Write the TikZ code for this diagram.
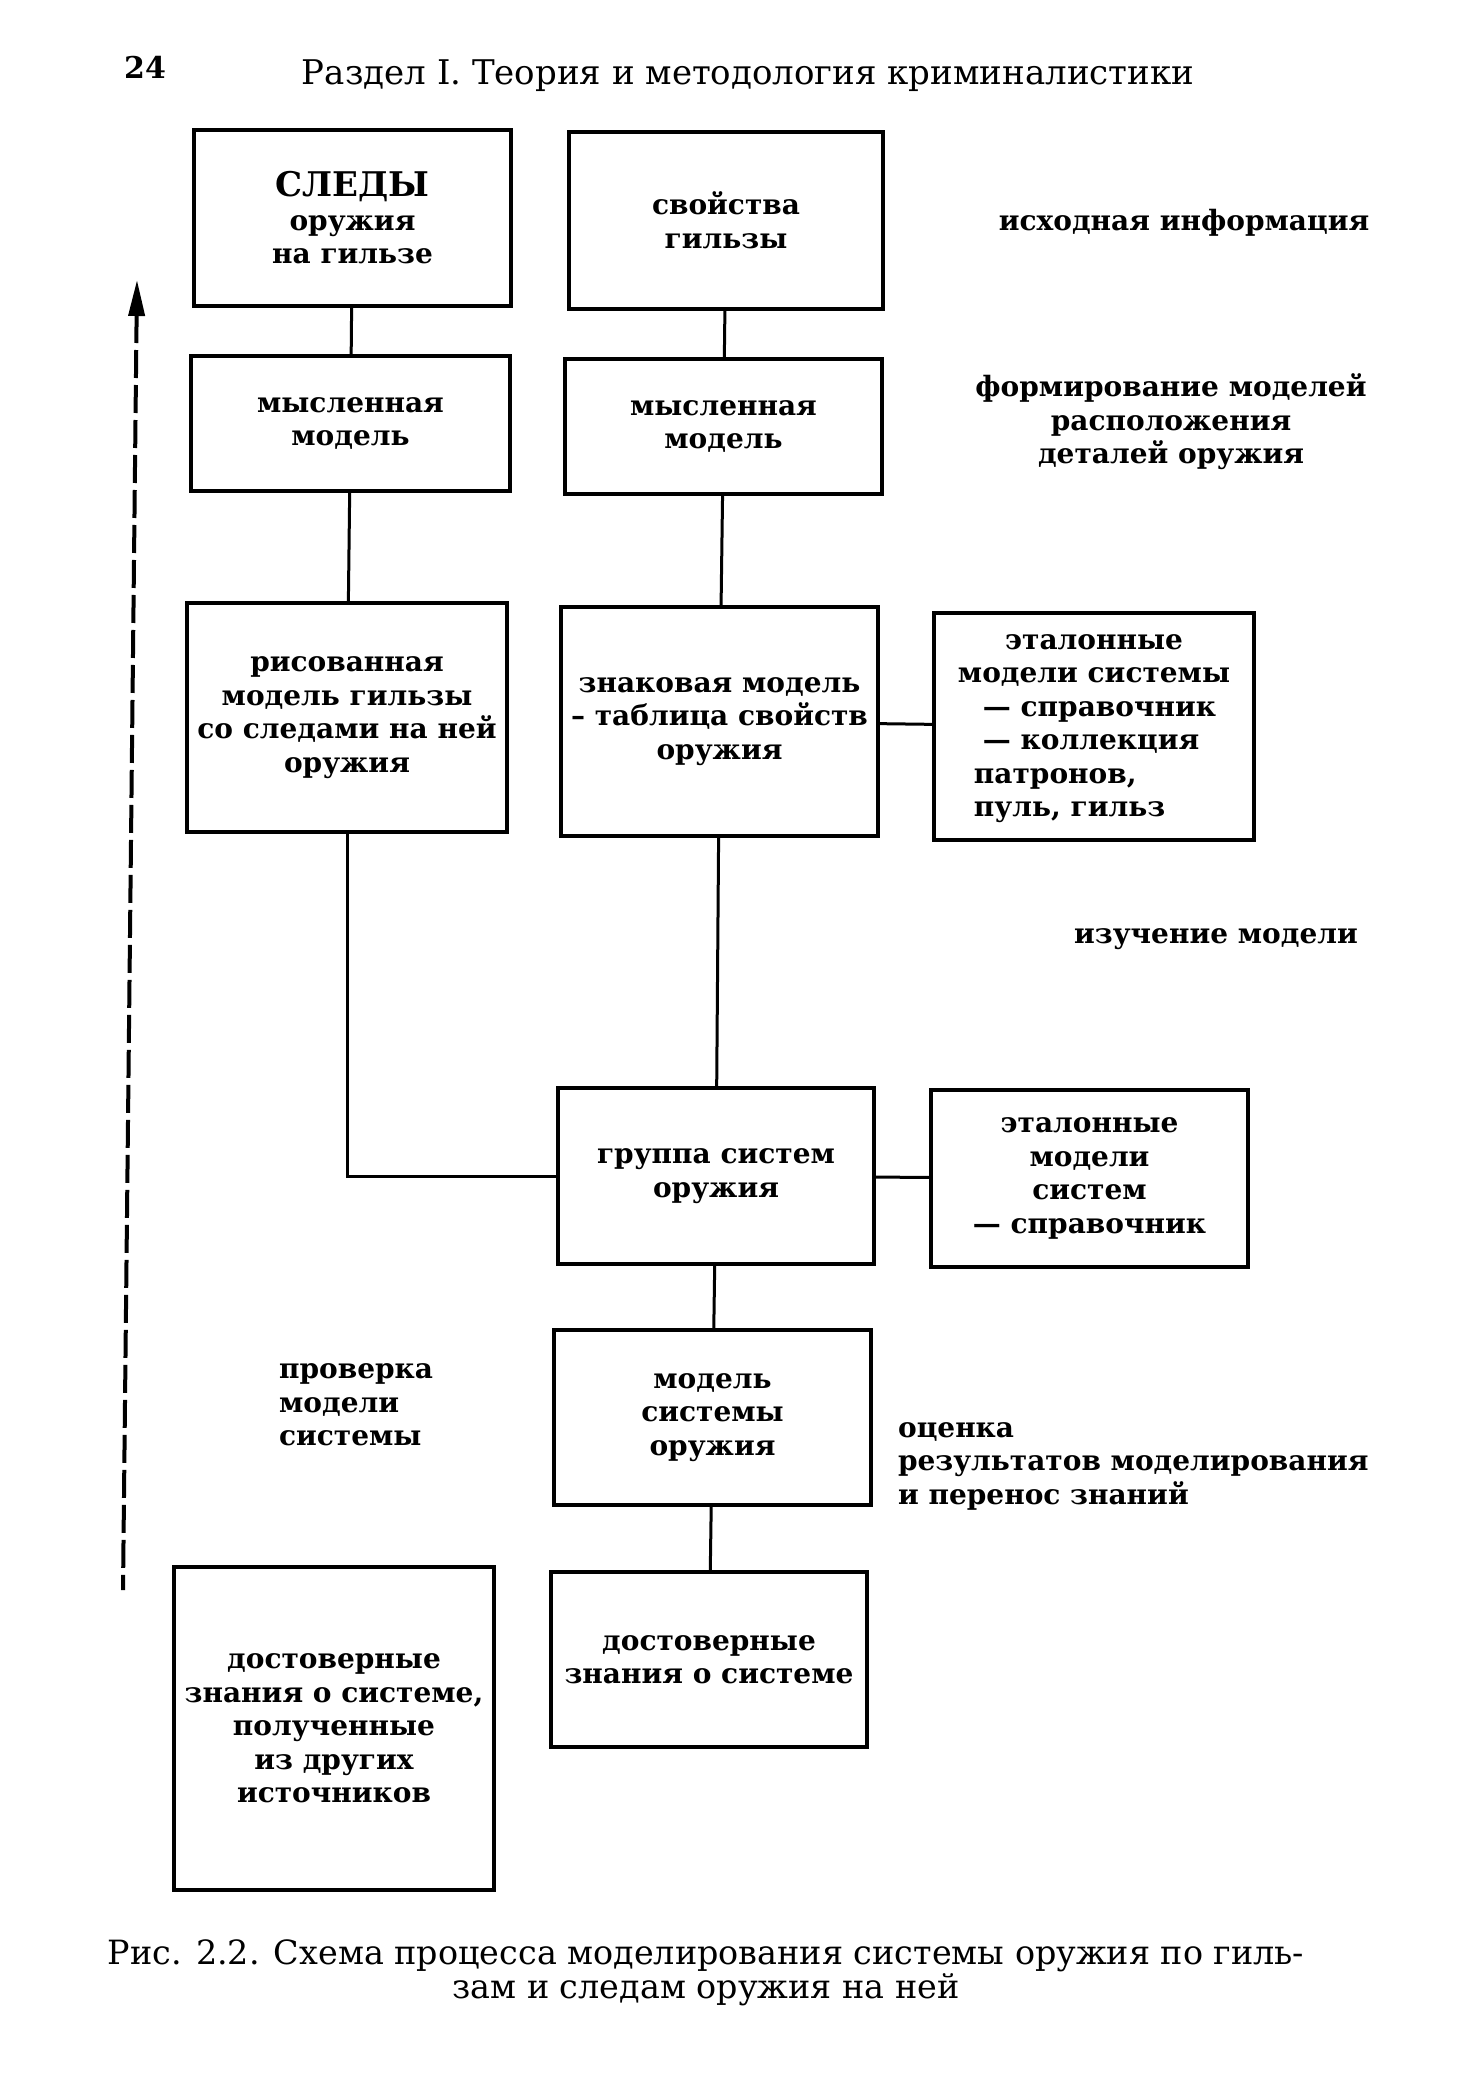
\documentclass[tikz,border=0pt]{standalone}
\usepackage{fontspec}
\setmainfont{DejaVu Serif}
\usepackage{tikz}
\newcommand*{\boxfont}{\fontsize{14pt}{16.75pt}\selectfont\bfseries}
\newcommand*{\capfont}{\fontsize{16.7pt}{17pt}\selectfont}
\newcommand*{\headfont}{\fontsize{17pt}{18pt}\selectfont}
\newcommand*{\cl}[1]{\multicolumn{1}{@{}c@{}}{#1}}
\usetikzlibrary{arrows.meta}
\tikzstyle{block} = [rectangle, line width=2pt, inner sep=2pt, align=center, font=\boxfont]
\tikzstyle{frame} = [draw, block]
\tikzstyle{note} = [align=center, font=\boxfont]
\tikzstyle{link} = [line width=1.5pt]
\tikzstyle{back} = [line width=2pt, dash pattern=on 14pt off 3.5pt, {Triangle[length=18pt, width=8pt]}-]

\begin{document}
\begin{tikzpicture}[x=0.5pt, y=-0.5pt]
    \useasboundingbox (0, 0) rectangle (1472, 2095);

    % Header.
    \node (page) [font=\fontsize{15pt}{17pt}\selectfont\bfseries] at (145, 67) {24};
    \node (head) [font=\headfont] at (748, 76) {Раздел I. Теория и методология криминалистики};

    % Blocks.
    \node (traces) [frame, minimum width=158.5pt, minimum height=88pt] at (352.5, 218)
        {{\fontsize{17pt}{17pt}\selectfont СЛЕДЫ}\\оружия\\на гильзе};
    \node (props) [frame, minimum width=157pt, minimum height=88.5pt] at (726, 220.5)
        {свойства\\гильзы};
    \node (mental 1) [frame, minimum width=159.5pt, minimum height=67.5pt] at (350.5, 423.5)
        {мысленная\\модель};
    \node (mental 2) [frame, minimum width=158.5pt, minimum height=67.5pt] at (723.5, 426.5)
        {мысленная\\модель};
    \node (drawn) [frame, minimum width=160pt, minimum height=114.5pt] at (347, 717.5)
        {рисованная\\модель гильзы\\со следами на ней\\оружия};
    \node (sign) [frame, minimum width=158.5pt, minimum height=114.5pt] at (719.5, 721.5)
        {знаковая модель\\– таблица свойств\\оружия};
    \node (ref 1) [frame, minimum width=160pt, minimum height=113.5pt] at (1094, 726.5)
        {\begin{tabular}{@{}l@{}}\cl{эталонные}\\\cl{модели системы}\\\hspace{12.5pt}— справочник\\\hspace{12.5pt}— коллекция\\\hspace{8pt}патронов,\\\hspace{8pt}пуль, гильз\end{tabular}};
    \node (group) [frame, minimum width=158pt, minimum height=88pt] at (716, 1176)
        {группа систем\\оружия};
    \node (ref 2) [frame, minimum width=158.5pt, minimum height=88.5pt] at (1089.5, 1178.5)
        {эталонные\\модели\\систем\\— справочник};
    \node (model) [frame, minimum width=158.5pt, minimum height=87.5pt] at (712.5, 1417.5)
        {модель\\системы\\оружия};
    \node (known) [frame, minimum width=158pt, minimum height=87.5pt] at (709, 1659.5)
        {достоверные\\знания о системе};
    \node (other) [frame, minimum width=160pt, minimum height=161.5pt] at (334, 1728.5)
        {достоверные\\знания о системе,\\полученные\\из других\\источников};

    % Stage notes.
    \node (info) [note] at (1184, 223) {исходная информация};
    \node (forming) [note] at (1171, 422) {формирование моделей\\расположения\\деталей оружия};
    \node (study) [note] at (1216, 939) {изучение модели};
    \node (check) [note, anchor=west, align=left] at (272, 1405) {проверка\\модели\\системы};
    \node (assess) [note, anchor=west, align=left] at (891, 1466)
        {оценка\\результатов моделирования\\и перенос знаний};

    % Lines.
    \draw [link] (traces) -- (mental 1);
    \draw [link] (props) -- (mental 2);
    \draw [link] (mental 1) -- (drawn);
    \draw [link] (mental 2) -- (sign);
    \draw [link] (sign) -- (ref 1);
    \draw [link] (sign) -- (group);
    \draw [link] (drawn) |- (group);
    \draw [link] (group) -- (ref 2);
    \draw [link] (group) -- (model);
    \draw [link] (model) -- (known);

    % Feedback arrow.
    \coordinate (back top) at (137, 280);
    \coordinate (back end) at (123, 1590);
    \draw [back] (back top) -- (back end);

    % Caption.
    \node (caption) [font=\capfont, align=center] at (706, 1973)
        {Рис. 2.2. Схема процесса моделирования системы оружия по гиль-\\зам и следам оружия на ней};
\end{tikzpicture}
\end{document}
